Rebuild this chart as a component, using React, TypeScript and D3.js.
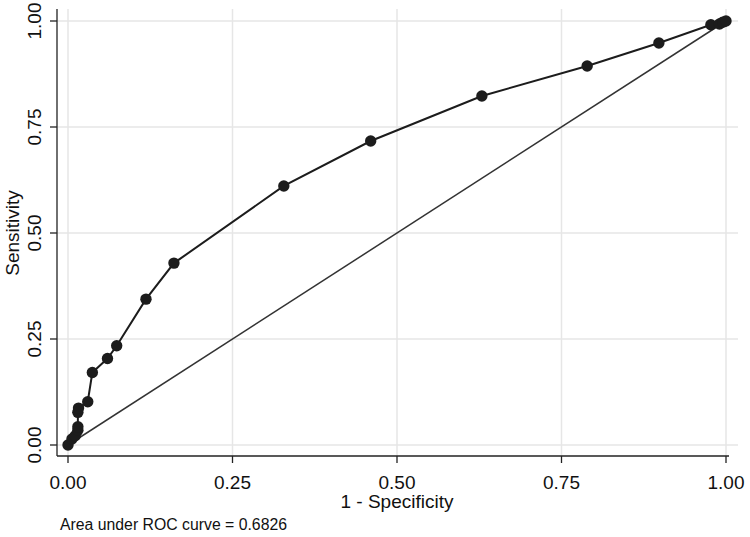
import React from "react";
import * as d3 from "d3";

const fpr = [0, 0.006, 0.011, 0.015, 0.015, 0.015, 0.016, 0.03, 0.037, 0.06, 0.074, 0.1185, 0.161, 0.328, 0.46, 0.629, 0.789, 0.898, 0.977, 0.99, 0.995, 1];
const tpr = [0, 0.014, 0.022, 0.035, 0.043, 0.077, 0.087, 0.102, 0.171, 0.204, 0.234, 0.344, 0.429, 0.611, 0.717, 0.823, 0.894, 0.948, 0.991, 0.993, 0.997, 1];
const ticks = [0, 0.25, 0.5, 0.75, 1];
const tickLabels = ["0.00", "0.25", "0.50", "0.75", "1.00"];
const xTitle = "1 - Specificity";
const yTitle = "Sensitivity";
const note = "Area under ROC curve = 0.6826";

export default function App() {
  const W = 750, H = 537;
  const x = d3.scaleLinear().domain([0, 1]).range([68, 726]);
  const y = d3.scaleLinear().domain([0, 1]).range([445, 21]);
  const pts = fpr.map((f, i) => [f, tpr[i]] as [number, number]);
  const line = d3.line<[number, number]>().x(d => x(d[0])).y(d => y(d[1]));
  const font = "'Liberation Sans', Arial, Helvetica, sans-serif";
  const axX = 57, axY = 456;
  return (
    <svg width={W} height={H} style={{ position: "fixed", left: 0, top: 0, background: "#fff" }}>
      <rect width={W} height={H} fill="#fff" />
      {ticks.map((t, i) => (
        <g key={"g" + i}>
          <line x1={x(t)} x2={x(t)} y1={9} y2={axY} stroke="#e6e6e6" strokeWidth={1.5} />
          <line x1={axX} x2={738} y1={y(t)} y2={y(t)} stroke="#e6e6e6" strokeWidth={1.5} />
        </g>
      ))}
      <line x1={axX} x2={axX} y1={9} y2={axY} stroke="#222" strokeWidth={1.3} />
      <line x1={axX} x2={729} y1={axY} y2={axY} stroke="#222" strokeWidth={1.3} />
      {ticks.map((t, i) => (
        <g key={"t" + i}>
          <line x1={x(t)} x2={x(t)} y1={axY} y2={axY + 7} stroke="#222" strokeWidth={1.3} />
          <text x={x(t)} y={488.5} textAnchor="middle" fontFamily={font} fontSize={19} fill="#111">{tickLabels[i]}</text>
          <line x1={axX - 7} x2={axX} y1={y(t)} y2={y(t)} stroke="#222" strokeWidth={1.3} />
          <text transform={`translate(40.5,${y(t)}) rotate(-90)`} textAnchor="middle" fontFamily={font} fontSize={19} fill="#111">{tickLabels[i]}</text>
        </g>
      ))}
      <line x1={x(0)} y1={y(0)} x2={x(1)} y2={y(1)} stroke="#333" strokeWidth={1.5} />
      <path d={line(pts) || ""} fill="none" stroke="#1c1c1c" strokeWidth={2} />
      {pts.map((p, i) => (
        <circle key={"c" + i} cx={x(p[0])} cy={y(p[1])} r={5.7} fill="#1c1c1c" />
      ))}
      <text x={397} y={507.5} textAnchor="middle" fontFamily={font} fontSize={19} fill="#111">{xTitle}</text>
      <text transform={`translate(18.5,${y(0.5)}) rotate(-90)`} textAnchor="middle" fontFamily={font} fontSize={19} fill="#111">{yTitle}</text>
      <text x={60} y={530} fontFamily={font} fontSize={15.8} fill="#111">{note}</text>
    </svg>
  );
}
